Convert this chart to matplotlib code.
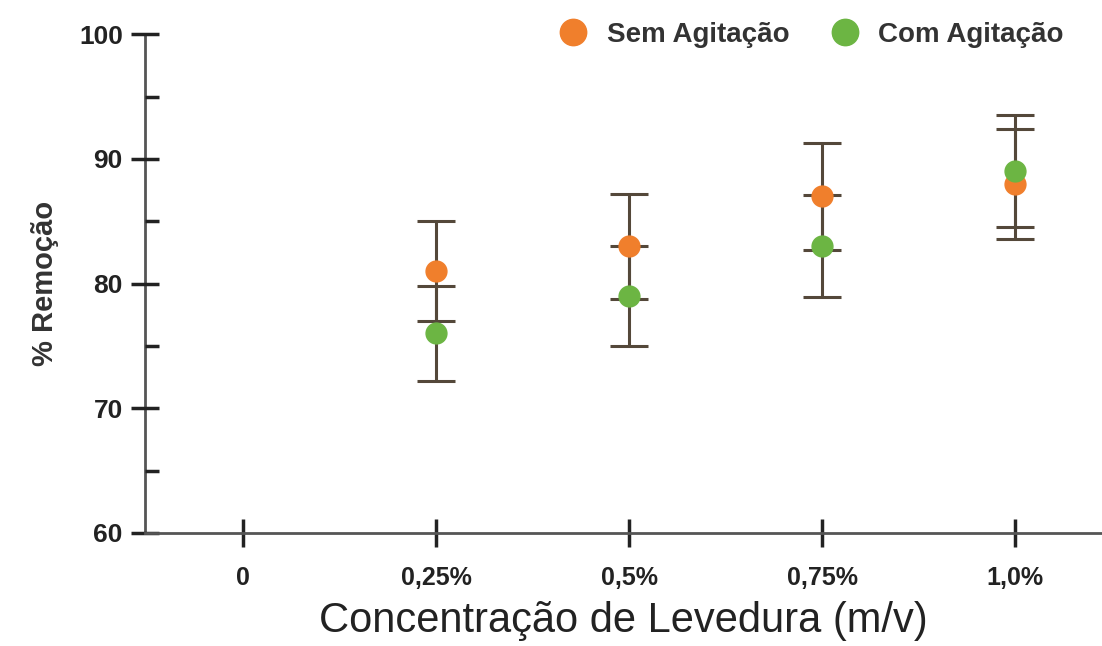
import numpy as np
import matplotlib.pyplot as plt
from matplotlib.ticker import MultipleLocator
from matplotlib.lines import Line2D

# valores
rotulos = ['0', '0,25%', '0,5%', '0,75%', '1,0%']
pos_sem = [1, 2, 3, 4]
sem_agit = [81, 83, 87, 88]
sem_err = [4.0, 4.2, 4.3, 4.4]
com_agit = [76, 79, 83, 89]
com_err = [3.8, 4.0, 4.1, 4.5]

cor_sem = '#f07f2c'
cor_com = '#6cb543'
cor_barra = '#54483a'
cor_eixo = '#555555'

plt.rcParams['font.family'] = ['Liberation Sans', 'DejaVu Sans']

fig = plt.figure(figsize=(11.02, 6.46), dpi=100)
ax = fig.add_axes([0.1316, 0.175, 0.8684, 0.772])

ax.errorbar(pos_sem, sem_agit, yerr=sem_err, fmt='o', color=cor_sem, ms=15,
            ecolor=cor_barra, elinewidth=2.2, capsize=14, capthick=2.2, zorder=3)
ax.errorbar(pos_sem, com_agit, yerr=com_err, fmt='o', color=cor_com, ms=15,
            ecolor=cor_barra, elinewidth=2.2, capsize=14, capthick=2.2, zorder=3)

ax.set_xlim(-0.508, 4.45)
ax.set_ylim(60, 100)
ax.set_xticks(range(len(rotulos)))
ax.set_xticklabels(rotulos, fontsize=18, fontweight='bold', color='#222222')
ax.yaxis.set_major_locator(MultipleLocator(10))
ax.yaxis.set_minor_locator(MultipleLocator(5))
for lb in ax.get_yticklabels():
    lb.set_fontweight('bold')
    lb.set_fontsize(19)
    lb.set_color('#222222')

ax.spines['top'].set_visible(False)
ax.spines['right'].set_visible(False)
for s in ['left', 'bottom']:
    ax.spines[s].set_color(cor_eixo)
    ax.spines[s].set_linewidth(2)
ax.spines['left'].set_zorder(1)

ax.tick_params(axis='x', direction='inout', length=20, width=2.5, color='#222222', pad=14)
ax.tick_params(axis='y', which='major', direction='inout', length=20, width=2.5, color='#222222', pad=6)
ax.tick_params(axis='y', which='minor', direction='in', length=10, width=2.5, color='#222222')

ax.set_ylabel('% Remoção', fontsize=21, fontweight='bold', color='#333333', labelpad=14)
ax.set_xlabel('Concentração de Levedura (m/v)', fontsize=30, color='#222222', labelpad=8)

alcas = [Line2D([], [], marker='o', ls='none', ms=19, color=cor_sem),
         Line2D([], [], marker='o', ls='none', ms=19, color=cor_com)]
leg = ax.legend(alcas, ['Sem Agitação', 'Com Agitação'], loc='upper right', ncol=2,
                frameon=False, bbox_to_anchor=(0.986, 1.075),
                prop={'weight': 'bold', 'size': 20}, handletextpad=0.5,
                columnspacing=1.3, handlelength=1.4)
for t in leg.get_texts():
    t.set_color('#333333')

fig.savefig('out.png', dpi=100)
